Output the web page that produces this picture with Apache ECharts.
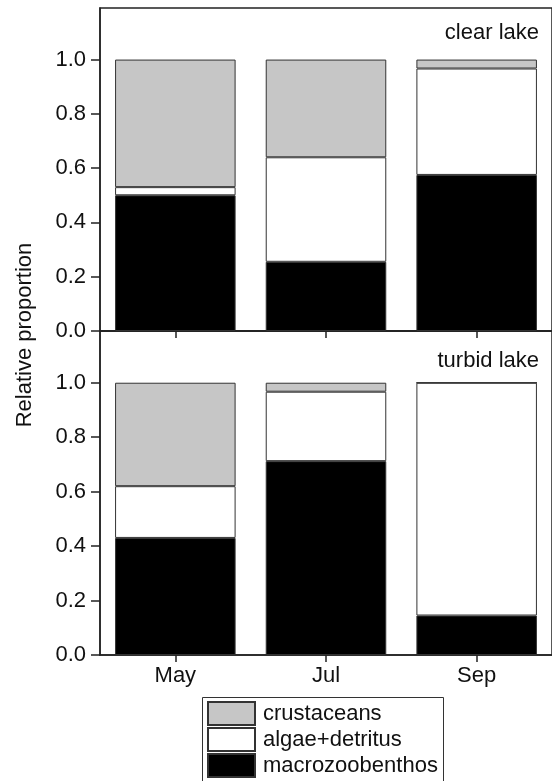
<!DOCTYPE html>
<html>
<head>
<meta charset="utf-8">
<script src="https://cdn.jsdelivr.net/npm/echarts@6/dist/echarts.min.js"></script>
<style>
  html, body { margin: 0; padding: 0; background: #fff; }
  #chart { width: 552px; height: 781px; }
</style>
</head>
<body>
<div id="chart"></div>
<script>
// Diet composition by month in the two lakes (stacked proportions)
const months = ['May', 'Jul', 'Sep'];
const groups = ['crustaceans', 'algae+detritus', 'macrozoobenthos'];
const yTicks = [0, 0.2, 0.4, 0.6, 0.8, 1.0];

const clearMacro = [0.50, 0.255, 0.575];
const clearAlgae = [0.03, 0.385, 0.392];
const clearCrust = [0.47, 0.36, 0.033];

const turbidMacro = [0.43, 0.712, 0.145];
const turbidAlgae = [0.19, 0.255, 0.855];
const turbidCrust = [0.38, 0.033, 0.0];

const fills = { 'crustaceans': '#c6c6c6', 'algae+detritus': '#ffffff', 'macrozoobenthos': '#000000' };
const font = 'Liberation Sans, Arial, sans-serif';
const fs = 22;
const axisColor = '#222';

function bars(name, data, idx, stack) {
  return {
    name: name, type: 'bar', stack: stack, data: data,
    xAxisIndex: idx, yAxisIndex: idx,
    barWidth: '80%',
    itemStyle: { color: fills[name], borderColor: '#333', borderWidth: 1 },
    emphasis: { disabled: true },
    animation: false
  };
}

function xAxisFor(idx, showLabels) {
  return {
    type: 'category', gridIndex: idx, data: months,
    axisLine: { lineStyle: { color: axisColor, width: 1.5 } },
    axisTick: { show: true, alignWithLabel: true, length: 7, lineStyle: { color: axisColor, width: 1.5 } },
    axisLabel: { show: showLabels, color: '#111', fontSize: fs, fontFamily: font, margin: 10 },
    splitLine: { show: false }
  };
}

function yAxisFor(idx) {
  return {
    type: 'value', gridIndex: idx, min: 0, max: 1.19,
    axisLine: { show: true, lineStyle: { color: axisColor, width: 1.5 } },
    axisTick: { show: true, length: 9, customValues: yTicks, lineStyle: { color: axisColor, width: 1.5 } },
    axisLabel: {
      customValues: yTicks, color: '#111', fontSize: fs, fontFamily: font, margin: 14,
      formatter: v => v.toFixed(1)
    },
    splitLine: { show: false }
  };
}

const chart = echarts.init(document.getElementById('chart'), null, { renderer: 'canvas' });
chart.setOption({
  animation: false,
  backgroundColor: '#fff',
  title: [
    { text: 'clear lake', right: 8, top: 17, textStyle: { fontSize: fs, fontWeight: 'normal', color: '#111', fontFamily: font } },
    { text: 'turbid lake', right: 8, top: 345, textStyle: { fontSize: fs, fontWeight: 'normal', color: '#111', fontFamily: font } }
  ],
  grid: [
    { left: 100, right: -7, top: 8, height: 323, show: true, borderColor: axisColor, borderWidth: 1.5, backgroundColor: 'transparent' },
    { left: 100, right: -7, top: 331, height: 324, show: true, borderColor: axisColor, borderWidth: 1.5, backgroundColor: 'transparent' }
  ],
  xAxis: [xAxisFor(0, false), xAxisFor(1, true)],
  yAxis: [yAxisFor(0), yAxisFor(1)],
  legend: {
    data: groups, orient: 'vertical', left: 207, top: 701, height: 110, width: 236,
    padding: 0,
    icon: 'rect',
    itemWidth: 47, itemHeight: 23, itemGap: 1,
    selectedMode: false,
    textStyle: { fontSize: fs, lineHeight: 23, color: '#111', fontFamily: font, padding: [0, 0, 0, 3] }
  },
  graphic: [
    {
      type: 'text', x: 25, y: 335, rotation: Math.PI / 2,
      style: { text: 'Relative proportion', fontSize: fs, fontFamily: font, fill: '#111', align: 'center', verticalAlign: 'middle' }
    },
    {
      // frame round the legend, running past the bottom edge
      type: 'rect', silent: true, z: 10,
      shape: { x: 202.5, y: 697.5, width: 241, height: 100 },
      style: { fill: 'none', stroke: '#333', lineWidth: 1 }
    }
  ],
  series: [
    bars('macrozoobenthos', clearMacro, 0, 'clear'),
    bars('algae+detritus', clearAlgae, 0, 'clear'),
    bars('crustaceans', clearCrust, 0, 'clear'),
    bars('macrozoobenthos', turbidMacro, 1, 'turbid'),
    bars('algae+detritus', turbidAlgae, 1, 'turbid'),
    bars('crustaceans', turbidCrust, 1, 'turbid')
  ]
});
</script>
</body>
</html>
